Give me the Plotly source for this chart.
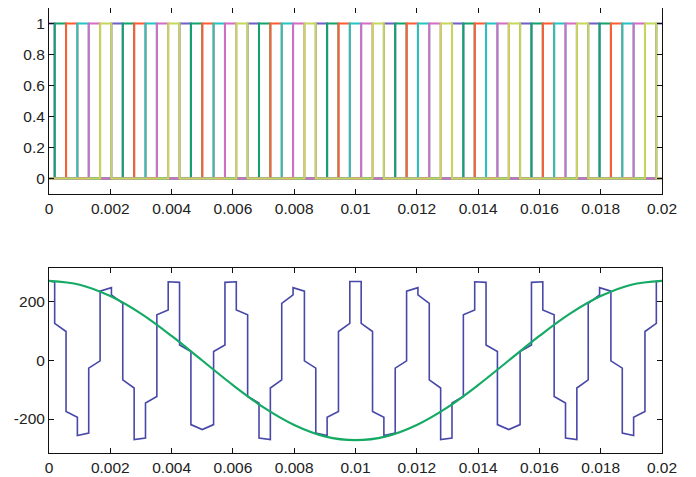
import plotly.graph_objects as go

# ---------------- data ----------------
# switching instants (ms)
switch_ms = [0.185, 0.556, 0.926, 1.296, 1.667, 2.037, 2.407, 2.778, 3.148, 3.519,
             3.889, 4.259, 4.630, 5.000, 5.370, 5.741, 6.111, 6.481, 6.852, 7.222,
             7.593, 7.963, 8.333, 8.704, 9.074, 9.444, 9.815, 10.185, 10.556, 10.926,
             11.296, 11.667, 12.037, 12.407, 12.778, 13.148, 13.519, 13.889, 14.259, 14.630,
             15.000, 15.370, 15.741, 16.111, 16.481, 16.852, 17.222, 17.593, 17.963, 18.333,
             18.704, 19.074, 19.444, 19.815]

# gate that is ON in each interval between switching instants (55 intervals)
gate_on = [1, 2, 3, 4, 5, 6, 1, 2, 3, 4, 5, 6, 1, 2, 3, 4, 5, 6, 1, 2,
           3, 4, 5, 6, 1, 2, 3, 4, 5, 6, 1, 2, 3, 4, 5, 6, 1, 2, 3, 4,
           5, 6, 1, 2, 3, 4, 5, 6, 1, 2, 3, 4, 5, 6, 1]

gate_ids = [1, 2, 3, 4, 5, 6]
gate_colors = ["#6f5fc8", "#12a36b", "#ff5c33", "#26c2c2", "#d46cc2", "#c5d65a"]

# output voltage: value at start and end of each interval
blue_start = [272, 127, -174, -256, -26, 237, 224, -66, -270, -145,
              156, 269, 53, -219, -236, 31, 267, 173, -123, -265,
              -94, 195, 249, -1, -248, -194, 99, 270, 127, -174,
              -256, -26, 237, 224, -66, -270, -145, 156, 269, 53,
              -219, -236, 31, 267, 173, -123, -265, -94, 195, 249,
              -1, -248, -194, 99, 270]
blue_end = [268, 99, -194, -248, -1, 249, 195, -94, -265, -123,
            173, 267, 31, -236, -219, 53, 269, 156, -145, -270,
            -66, 224, 237, -26, -256, -174, 127, 270, 99, -194,
            -248, -1, 249, 195, -94, -265, -123, 173, 267, 31,
            -236, -219, 53, 269, 156, -145, -270, -66, 224, 237,
            -26, -256, -174, 127, 272]

# reference (fundamental) wave, sampled every 1 ms
ref_t_ms = [0, 1, 2, 3, 4, 5, 6, 7, 8, 9, 10, 11, 12, 13, 14, 15, 16, 17, 18, 19, 20]
ref_v = [272, 259, 220, 160, 84, 0, -84, -160, -220, -259, -272,
         -259, -220, -160, -84, 0, 84, 160, 220, 259, 272]

x_ticks = [0, 0.002, 0.004, 0.006, 0.008, 0.01, 0.012, 0.014, 0.016, 0.018, 0.02]
x_ticklabels = ["0", "0.002", "0.004", "0.006", "0.008", "0.01", "0.012",
                "0.014", "0.016", "0.018", "0.02"]
top_y_ticks = [0, 0.2, 0.4, 0.6, 0.8, 1]
top_y_ticklabels = ["0", "0.2", "0.4", "0.6", "0.8", "1"]
bot_y_ticks = [-200, 0, 200]
bot_y_ticklabels = ["-200", "0", "200"]

# ---------------- figure ----------------
t_end = 0.02
edges = [0.0] + [v / 1000.0 for v in switch_ms] + [t_end]

fig = go.Figure()

for gid, col in zip(gate_ids, gate_colors):
    ys = [1 if g == gid else 0 for g in gate_on]
    ys = ys + [ys[-1]]
    fig.add_trace(go.Scatter(x=edges, y=ys, mode="lines", line=dict(color=col, width=2, shape="hv"),
                             xaxis="x", yaxis="y", hoverinfo="skip"))

bx, by = [], []
for i in range(len(blue_start)):
    bx += [edges[i], edges[i + 1]]
    by += [blue_start[i], blue_end[i]]
fig.add_trace(go.Scatter(x=bx, y=by, mode="lines", line=dict(color="#4848a8", width=1.6),
                         xaxis="x2", yaxis="y2"))
fig.add_trace(go.Scatter(x=[v / 1000.0 for v in ref_t_ms], y=ref_v, mode="lines",
                         line=dict(color="#14aa64", width=2.2, shape="spline"),
                         xaxis="x2", yaxis="y2"))

font = dict(family="Liberation Sans, Arial, sans-serif", size=15.5, color="#222222")
axis_common = dict(showline=True, linecolor="#111111", linewidth=1, mirror="ticks",
                   ticks="inside", ticklen=5, tickcolor="#111111", showgrid=False,
                   zeroline=False, tickfont=font, automargin=False)

# the page adds an 8 px body margin, so the figure is sized to fit inside the window
fig.update_layout(
    width=688, height=469,
    margin=dict(l=41, r=34, t=0, b=24),
    paper_bgcolor="white", plot_bgcolor="white",
    showlegend=False,
    xaxis=dict(domain=[0, 1], anchor="y", range=[0, t_end], tickvals=x_ticks,
               ticktext=x_ticklabels, **axis_common),
    yaxis=dict(domain=[0.582, 1], anchor="x", range=[-0.1, 1.1], tickvals=top_y_ticks,
               ticktext=top_y_ticklabels, **axis_common),
    xaxis2=dict(domain=[0, 1], anchor="y2", range=[0, t_end], tickvals=x_ticks,
                ticktext=x_ticklabels, **axis_common),
    yaxis2=dict(domain=[0, 0.4157], anchor="x2", range=[-316, 316], tickvals=bot_y_ticks,
                ticktext=bot_y_ticklabels, **axis_common),
)

fig.write_html("out.html")
